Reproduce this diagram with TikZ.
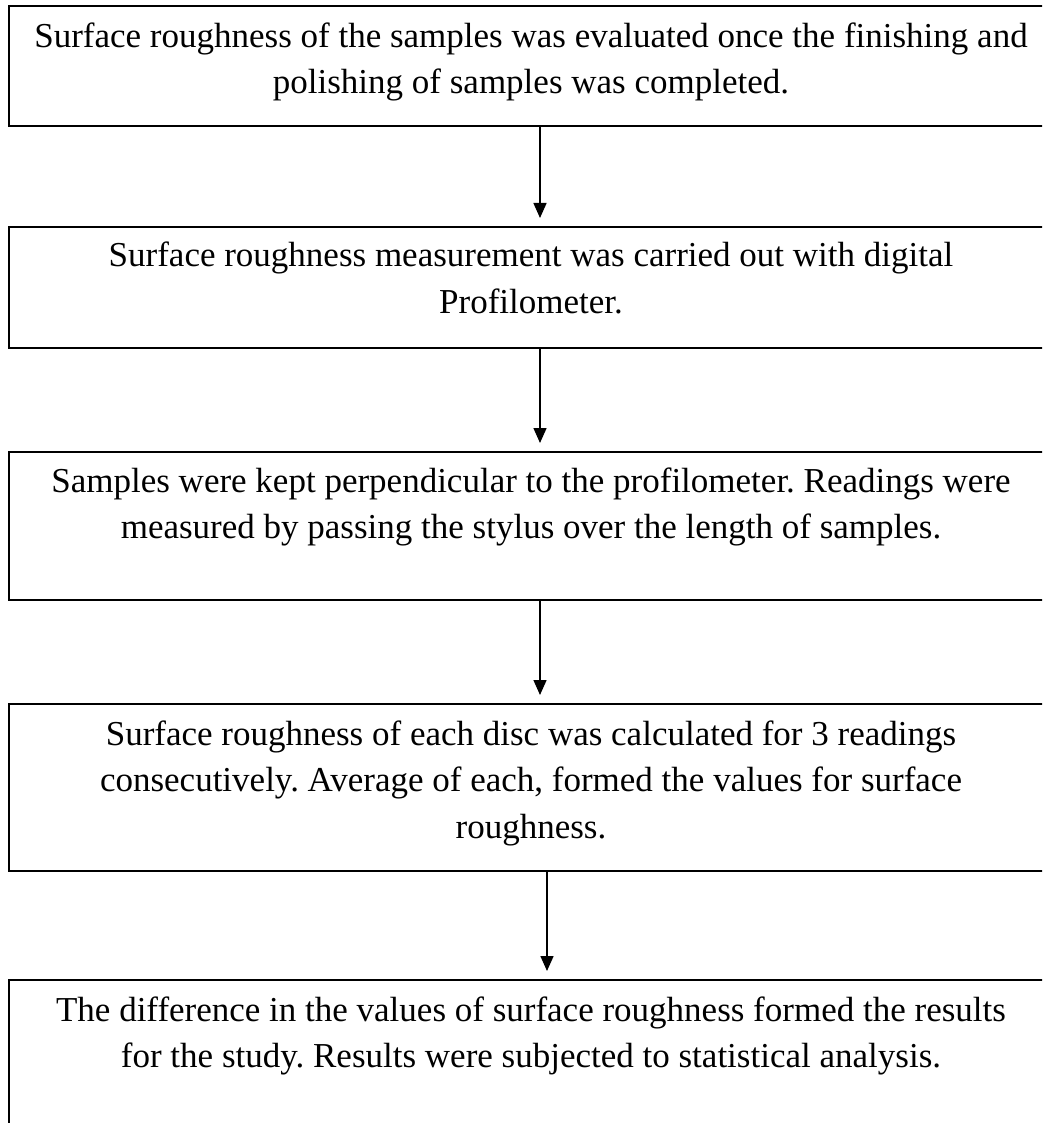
\documentclass[tikz,border=0pt]{standalone}
\usepackage{fontspec}
\setmainfont{Liberation Serif}
\frenchspacing
\usetikzlibrary{arrows.meta}
\begin{document}
\begin{tikzpicture}[x=1pt,y=-1pt,
  box/.style={draw, line width=2pt, rectangle, minimum width=1062pt, anchor=north west, inner sep=0pt},
  txt/.style={font=\fontsize{35}{46.5}\selectfont, align=center, inner sep=0pt},
  flow/.style={-{Triangle[length=15pt,width=13pt]}, line width=1.5pt, shorten >=8pt}]
\useasboundingbox (0,0) rectangle (1042,1123);
\clip (0,0) rectangle (1042,1123);
\node[box, minimum height=120pt] (b1) at (8,5) {};
\node[box, minimum height=121pt] (b2) at (8,226) {};
\node[box, minimum height=148pt] (b3) at (8,451) {};
\node[box, minimum height=167pt] (b4) at (8,703) {};
\node[box, minimum height=220pt] (b5) at (8,979) {};
\node[txt] (t1) at (531,62) {Surface roughness of the samples was evaluated once the finishing and\\polishing of samples was completed.};
\node[txt] (t2) at (531,278) {Surface roughness measurement was carried out with digital\\Profilometer.};
\node[txt] (t3) at (531,507) {Samples were kept perpendicular to the profilometer. Readings were\\measured by passing the stylus over the length of samples.};
\node[txt] (t4) at (531,783) {Surface roughness of each disc was calculated for 3 readings\\consecutively. Average of each, formed the values for surface\\roughness.};
\node[txt] (t5) at (531,1036) {The difference in the values of surface roughness formed the results\\for the study. Results were subjected to statistical analysis.};
\draw[flow] (b1.south) -- (b2.north);
\draw[flow] (b2.south) -- (b3.north);
\draw[flow] (b3.south) -- (b4.north);
\draw[flow] ([xshift=7pt]b4.south) -- ([xshift=7pt]b5.north);
\end{tikzpicture}
\end{document}
